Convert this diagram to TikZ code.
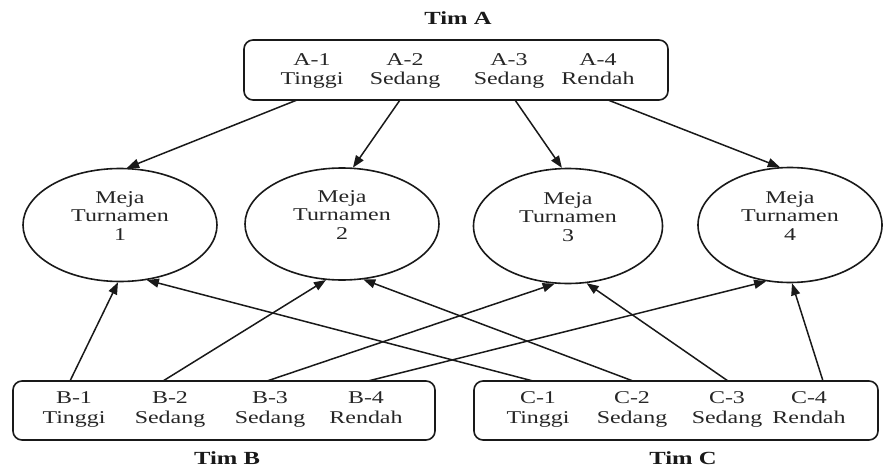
\documentclass[tikz,border=0pt]{standalone}
\usepackage{fontspec}
\setmainfont{Liberation Serif}
\usetikzlibrary{arrows.meta,shapes.geometric}
\newcommand\wtxt[1]{\scalebox{1.33}[1]{\begin{tabular}{@{}c@{}}#1\end{tabular}}}
\begin{document}
\begin{tikzpicture}[x=1pt,y=-1pt,
  team/.style={draw=black!90, line width=1.6pt, rounded corners=9pt, inner sep=0pt},
  meja/.style={draw=black!90, line width=1.6pt, ellipse, inner sep=0pt},
  lbl/.style={inner sep=0pt, text=black!85, font=\fontsize{18}{19.5}\selectfont},
  ttl/.style={inner sep=0pt, text=black!90, font=\fontsize{18.5}{20}\selectfont\bfseries},
  conn/.style={line width=1.5pt, draw=black!90, -{Triangle[length=12pt,width=9pt]}}]
\useasboundingbox (0,0) rectangle (883,468);
\fill[white] (0,0) rectangle (883,468);

% titles
\node[ttl] (tA) at (458,21) {\wtxt{Tim A}};
\node[ttl] (tB) at (227,460) {\wtxt{Tim B}};
\node[ttl] (tC) at (683,460) {\wtxt{Tim C}};

% team boxes
\node[team, minimum width=424pt, minimum height=60pt] (A) at (456,70) {};
\node[team, minimum width=422pt, minimum height=59pt] (B) at (224,410.5) {};
\node[team, minimum width=404pt, minimum height=59pt] (C) at (676,410.5) {};

% member labels
\node[lbl] (a1) at (312,71) {\wtxt{A-1\\Tinggi}};
\node[lbl] (a2) at (405,71) {\wtxt{A-2\\Sedang}};
\node[lbl] (a3) at (509,71) {\wtxt{A-3\\Sedang}};
\node[lbl] (a4) at (598,71) {\wtxt{A-4\\Rendah}};
\node[lbl] (b1) at (74,409.5) {\wtxt{B-1\\Tinggi}};
\node[lbl] (b2) at (170,409.5) {\wtxt{B-2\\Sedang}};
\node[lbl] (b3) at (270,409.5) {\wtxt{B-3\\Sedang}};
\node[lbl] (b4) at (366,409.5) {\wtxt{B-4\\Rendah}};
\node[lbl] (c1) at (538,409.5) {\wtxt{C-1\\Tinggi}};
\node[lbl] (c2) at (632,409.5) {\wtxt{C-2\\Sedang}};
\node[lbl] (c3) at (727,409.5) {\wtxt{C-3\\Sedang}};
\node[lbl] (c4) at (809,409.5) {\wtxt{C-4\\Rendah}};

% tables
\node[meja, minimum width=194pt, minimum height=113pt] (E1) at (120,225) {};
\node[meja, minimum width=194pt, minimum height=112pt] (E2) at (342,224) {};
\node[meja, minimum width=189pt, minimum height=115pt] (E3) at (568,226) {};
\node[meja, minimum width=184pt, minimum height=115pt] (E4) at (790,225) {};
\node[lbl, font=\fontsize{18}{18.5}\selectfont] (m1) at (120,218) {\wtxt{Meja\\Turnamen\\1}};
\node[lbl, font=\fontsize{18}{18.5}\selectfont] (m2) at (342,217) {\wtxt{Meja\\Turnamen\\2}};
\node[lbl, font=\fontsize{18}{18.5}\selectfont] (m3) at (568,219) {\wtxt{Meja\\Turnamen\\3}};
\node[lbl, font=\fontsize{18}{18.5}\selectfont] (m4) at (790,218) {\wtxt{Meja\\Turnamen\\4}};

% connector tails on the box borders
\coordinate (ta1) at (297,100);
\coordinate (ta2) at (400,100);
\coordinate (ta3) at (515,100);
\coordinate (ta4) at (608,100);
\coordinate (tb1) at (70,381);
\coordinate (tb2) at (163,381);
\coordinate (tb3) at (267,381);
\coordinate (tb4) at (368,381);
\coordinate (tc1) at (533,381);
\coordinate (tc2) at (633,381);
\coordinate (tc3) at (728,381);
\coordinate (tc4) at (823,381);

% Tim A to tables
\draw[conn] (ta1) -- (E1.83);
\draw[conn] (ta2) -- (E2.79);
\draw[conn] (ta3) -- (E3.96);
\draw[conn] (ta4) -- (E4.100);
% Tim B to tables
\draw[conn] (tb1) -- (E1.268);
\draw[conn] (tb2) -- (E2.254);
\draw[conn] (tb3) -- (E3.257);
\draw[conn] (tb4) -- (E4.247);
% Tim C to tables
\draw[conn] (tc1) -- (E1.296);
\draw[conn] (tc2) -- (E2.291);
\draw[conn] (tc3) -- (E3.288);
\draw[conn] (tc4) -- (E4.272);
\end{tikzpicture}
\end{document}
